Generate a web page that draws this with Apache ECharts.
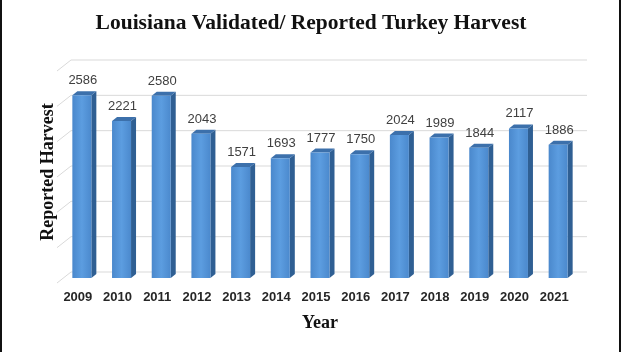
<!DOCTYPE html>
<html>

<head>
    <title>Louisiana Validated/ Reported Turkey Harvest</title>
    <meta charset="utf-8" />
    <script src="https://cdn.jsdelivr.net/npm/echarts@6/dist/echarts.min.js"></script>
    <style type="text/css">
        html,
        body {
            width: 100%;
            height: 100%;
            margin: 0;
            background: #fff;
        }

        #main {
            position: absolute;
            left: 0;
            top: 0;
            width: 622px;
            height: 352px;
        }

        .edge {
            position: absolute;
            top: 0;
            width: 2px;
            height: 352px;
            background: #111;
        }
    </style>
</head>

<body>
    <div id="main"></div>
    <div class="edge" style="left:0"></div>
    <div class="edge" style="left:619px"></div>
    <script>
        var years = ['2009', '2010', '2011', '2012', '2013', '2014', '2015', '2016', '2017', '2018', '2019', '2020', '2021'];
        var harvest = [2586, 2221, 2580, 2043, 1571, 1693, 1777, 1750, 2024, 1989, 1844, 2117, 1886];
        var yTicks = [0, 500, 1000, 1500, 2000, 2500, 3000];

        var chart = echarts.init(document.getElementById('main'));

        // 3d-ish back wall gridlines
        function renderGrid(params, api) {
            var cs = params.coordSys;
            var yb = api.coord([0, api.value(1)])[1] - 6;
            return {
                type: 'polyline',
                shape: {
                    points: [[cs.x - 5, yb + 11], [cs.x + 9, yb], [cs.x + cs.width + 9, yb]]
                },
                style: { stroke: '#d9d9d9', lineWidth: 1, fill: null },
                silent: true
            };
        }

        // bar with front face, right side and top
        function renderBar(params, api) {
            var i = api.value(0);
            var v = api.value(1);
            var base = api.coord([i, 0]);
            var top = api.coord([i, v]);
            var x = base[0], y0 = base[1], y1 = top[1];
            var w = 19, d = 5, h = 4;
            var l = x - w / 2, r = x + w / 2;
            return {
                type: 'group',
                children: [{
                    type: 'polygon',
                    shape: { points: [[r, y1], [r + d, y1 - h], [r + d, y0 - h], [r, y0]] },
                    style: { fill: '#2f5f93' }
                }, {
                    type: 'polygon',
                    shape: { points: [[l, y1], [l + d, y1 - h], [r + d, y1 - h], [r, y1]] },
                    style: { fill: '#3c70ab' }
                }, {
                    type: 'rect',
                    shape: { x: l, y: y1, width: w, height: y0 - y1 },
                    style: {
                        fill: new echarts.graphic.LinearGradient(0, 0, 1, 0, [
                            { offset: 0, color: '#4a88cc' },
                            { offset: 0.5, color: '#5c9de0' },
                            { offset: 1, color: '#4b89cd' }
                        ])
                    }
                }, {
                    type: 'text',
                    style: {
                        text: String(v),
                        x: x + 1,
                        y: y1 - h - 4,
                        textAlign: 'center',
                        textVerticalAlign: 'bottom',
                        fill: '#404040',
                        font: '13px "Liberation Sans", Arial, sans-serif'
                    }
                }]
            };
        }

        var option = {
            animation: false,
            title: {
                text: 'Louisiana Validated/ Reported Turkey Harvest',
                left: 'center',
                top: 7,
                textStyle: {
                    fontFamily: '"Liberation Serif", serif',
                    fontWeight: 'bold',
                    fontSize: 21.5,
                    color: '#111'
                }
            },
            grid: {
                left: 62,
                right: 44,
                top: 66,
                bottom: 74
            },
            xAxis: {
                type: 'category',
                data: years,
                name: 'Year',
                nameLocation: 'middle',
                nameGap: 36,
                nameTextStyle: {
                    fontFamily: '"Liberation Serif", serif',
                    fontWeight: 'bold',
                    fontSize: 18,
                    color: '#111'
                },
                axisLine: { show: false },
                axisTick: { show: false },
                axisLabel: {
                    margin: 13,
                    padding: [0, 8, 0, 0],
                    fontFamily: '"Liberation Sans", Arial, sans-serif',
                    fontWeight: 'bold',
                    fontSize: 13,
                    color: '#262626'
                }
            },
            yAxis: {
                type: 'value',
                min: 0,
                max: 3000,
                interval: 500,
                name: 'Reported Harvest',
                nameLocation: 'middle',
                nameRotate: 90,
                nameGap: 5,
                nameTextStyle: {
                    fontFamily: '"Liberation Serif", serif',
                    fontWeight: 'bold',
                    fontSize: 18,
                    color: '#111'
                },
                axisLine: { show: false },
                axisTick: { show: false },
                axisLabel: { show: false },
                splitLine: { show: false }
            },
            series: [{
                type: 'custom',
                renderItem: renderGrid,
                data: yTicks.map(function (v) { return [0, v]; }),
                z: 1,
                silent: true
            }, {
                type: 'custom',
                renderItem: renderBar,
                data: harvest.map(function (v, i) { return [i, v]; }),
                z: 2
            }]
        };
        chart.setOption(option);
    </script>
</body>

</html>
